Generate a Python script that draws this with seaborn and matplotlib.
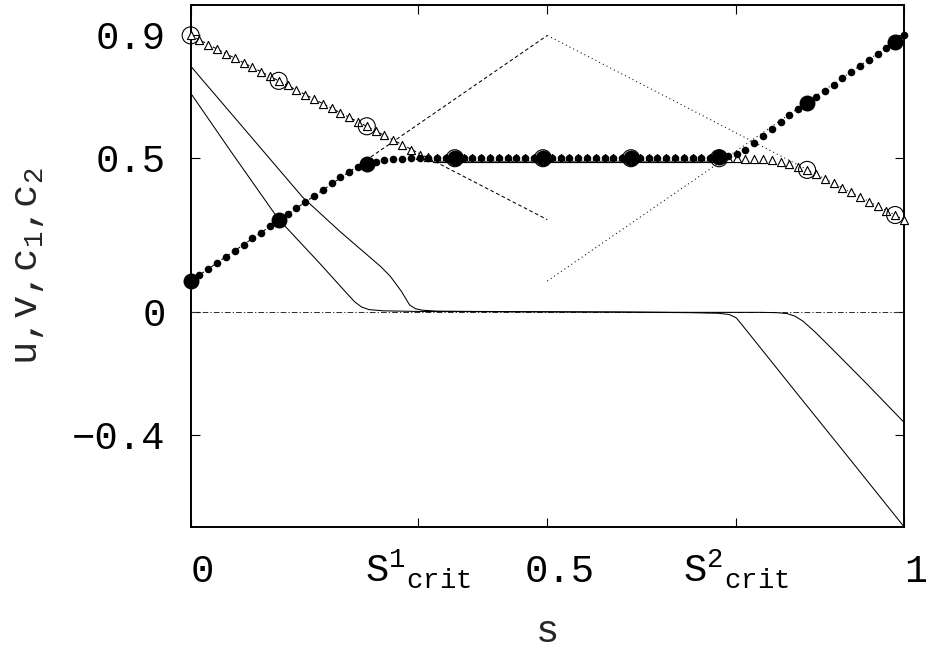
import numpy as np
import matplotlib
matplotlib.use("Agg")
import matplotlib.pyplot as plt
from matplotlib import transforms
import seaborn as sns

# grid of the numerical solution (82 nodes on [0, 1])
s = np.linspace(0.0, 1.0, 82)

# c1 : filled dots
c1 = [0.100, 0.120, 0.140, 0.159, 0.179, 0.199, 0.219, 0.239, 0.258, 0.278,
      0.298, 0.318, 0.338, 0.358, 0.378, 0.398, 0.418, 0.438, 0.456, 0.470,
      0.480, 0.489, 0.495, 0.498, 0.499, 0.500, 0.500, 0.500, 0.500, 0.500,
      0.500, 0.500, 0.500, 0.500, 0.500, 0.500, 0.500, 0.500, 0.500, 0.500,
      0.500, 0.500, 0.500, 0.500, 0.500, 0.500, 0.500, 0.500, 0.500, 0.500,
      0.500, 0.500, 0.500, 0.500, 0.500, 0.500, 0.500, 0.500, 0.500, 0.501,
      0.503, 0.506, 0.513, 0.528, 0.550, 0.573, 0.596, 0.618, 0.640, 0.660,
      0.680, 0.700, 0.720, 0.740, 0.760, 0.780, 0.800, 0.820, 0.840, 0.860,
      0.880, 0.900]

# c2 : open triangles
c2 = [0.900, 0.885, 0.870, 0.856, 0.841, 0.826, 0.811, 0.796, 0.781, 0.767,
      0.752, 0.737, 0.722, 0.707, 0.693, 0.678, 0.663, 0.648, 0.633, 0.619,
      0.604, 0.589, 0.574, 0.559, 0.544, 0.527, 0.512, 0.504, 0.501, 0.500,
      0.500, 0.500, 0.500, 0.500, 0.500, 0.500, 0.500, 0.500, 0.500, 0.500,
      0.500, 0.500, 0.500, 0.500, 0.500, 0.500, 0.500, 0.500, 0.500, 0.500,
      0.500, 0.500, 0.500, 0.500, 0.500, 0.500, 0.500, 0.500, 0.500, 0.500,
      0.500, 0.500, 0.500, 0.499, 0.498, 0.496, 0.493, 0.488, 0.481, 0.472,
      0.462, 0.448, 0.433, 0.418, 0.403, 0.389, 0.374, 0.359, 0.344, 0.329,
      0.315, 0.300]

# u and v : thin solid lines
u_s = [0.0, 0.157, 0.21, 0.245, 0.267, 0.28, 0.295, 0.307, 0.315, 0.325,
       0.345, 0.40, 0.50, 0.60, 0.70, 0.76, 0.80, 0.822, 0.836, 0.847,
       0.858, 0.875, 0.901, 0.948, 1.0]
u_val = [0.800, 0.373, 0.260, 0.190, 0.146, 0.115, 0.068, 0.022, 0.010, 0.005,
         0.002, 0.001, 0.000, -0.001, -0.002, -0.002, -0.002, -0.003, -0.006, -0.014,
         -0.030, -0.065, -0.125, -0.235, -0.360]
v_s = [0.0, 0.06, 0.123, 0.18, 0.215, 0.23, 0.24, 0.25, 0.27, 0.32,
       0.45, 0.60, 0.70, 0.74, 0.755, 0.765, 0.78, 0.85, 0.92, 1.0]
v_val = [0.712, 0.510, 0.302, 0.160, 0.070, 0.032, 0.015, 0.007, 0.003, 0.001,
         0.000, -0.001, -0.003, -0.005, -0.009, -0.020, -0.063, -0.266, -0.468, -0.700]

# initial data (left, dashed) and boundary data (right, dotted)
init_s = [0.0, 0.5]
init_c1 = [0.1, 0.9]
init_c2 = [0.9, 0.3]
bnd_s = [0.5, 1.0]
bnd_c1 = [0.1, 0.9]
bnd_c2 = [0.9, 0.3]

xtick_pos = [0.0, 0.319, 0.5, 0.764, 1.0]
xtick_labels = ["0", r"S$^{1}$$_{\mathrm{crit}}$", "0.5", r"S$^{2}$$_{\mathrm{crit}}$", "1"]
ytick_pos = [-0.4, 0.0, 0.5, 0.9]
ytick_labels = ["\u22120.4", "0", "0.5", "0.9"]

sns.set_style("ticks")
plt.rcParams["font.family"] = ["Liberation Mono", "DejaVu Sans"]
plt.rcParams["mathtext.fontset"] = "custom"
plt.rcParams["mathtext.rm"] = "Liberation Mono"
plt.rcParams["mathtext.it"] = "Liberation Mono"
plt.rcParams["mathtext.bf"] = "Liberation Mono"

fig = plt.figure(figsize=(9.26, 6.52), dpi=100)
ax = fig.add_axes([0.2059, 0.1922, 0.7703, 0.8006])

ax.axhline(0.0, color="#333333", linewidth=0.75, dashes=(5.5, 2.0, 1.2, 2.0), zorder=1)
ax.plot(init_s, init_c1, color="black", linewidth=0.75, dashes=(3.5, 2.5), zorder=2)
ax.plot(init_s, init_c2, color="black", linewidth=0.75, dashes=(3.5, 2.5), zorder=2)
ax.plot(bnd_s, bnd_c1, color="black", linewidth=0.75, dashes=(1.0, 3.0), zorder=2)
ax.plot(bnd_s, bnd_c2, color="black", linewidth=0.75, dashes=(1.0, 3.0), zorder=2)

sns.lineplot(x=u_s, y=u_val, ax=ax, color="black", linewidth=0.75, zorder=2)
sns.lineplot(x=v_s, y=v_val, ax=ax, color="black", linewidth=0.75, zorder=2)

sns.scatterplot(x=s, y=c2, ax=ax, marker="^", s=34, color="white",
                edgecolor="black", linewidth=0.8, zorder=3, clip_on=False)
sns.scatterplot(x=s[::10], y=c2[::10], ax=ax, marker="o", s=150, color="none",
                edgecolor="black", linewidth=0.8, zorder=4, clip_on=False)
sns.scatterplot(x=s, y=c1, ax=ax, marker="o", s=30, color="black",
                linewidth=0, zorder=5, clip_on=False)
sns.scatterplot(x=s[::10], y=c1[::10], ax=ax, marker="o", s=132, color="black",
                linewidth=0, zorder=6, clip_on=False)

ax.set_xlim(0, 1)
ax.set_ylim(-0.7, 1.0)

ax.tick_params(direction="in", length=6.5, width=0.8, top=True, right=True, colors="black")
ax.tick_params(axis="x", pad=40)
ax.tick_params(axis="y", pad=18)
ax.set_xticks(xtick_pos, xtick_labels, fontsize=28, va="baseline")
ax.set_yticks(ytick_pos, ytick_labels, fontsize=28)

# gnuplot puts the plain numbers a little to the right of their ticks
shift = transforms.ScaledTranslation(0.12, 0, fig.dpi_scale_trans)
for lab in ax.get_xticklabels():
    if lab.get_text() in ("0", "0.5", "1"):
        lab.set_transform(lab.get_transform() + shift)

for sp in ax.spines.values():
    sp.set_visible(True)
    sp.set_linewidth(1.4)
    sp.set_color("black")

ax.set_xlabel("s", fontsize=28, va="baseline")
ax.xaxis.set_label_coords(0.5, -0.2203)
ax.set_ylabel(r"u,v,c$_1$,c$_2$", fontsize=28, va="center")
ax.yaxis.set_label_coords(-0.228, 0.5)

fig.savefig("out.png", dpi=100)
